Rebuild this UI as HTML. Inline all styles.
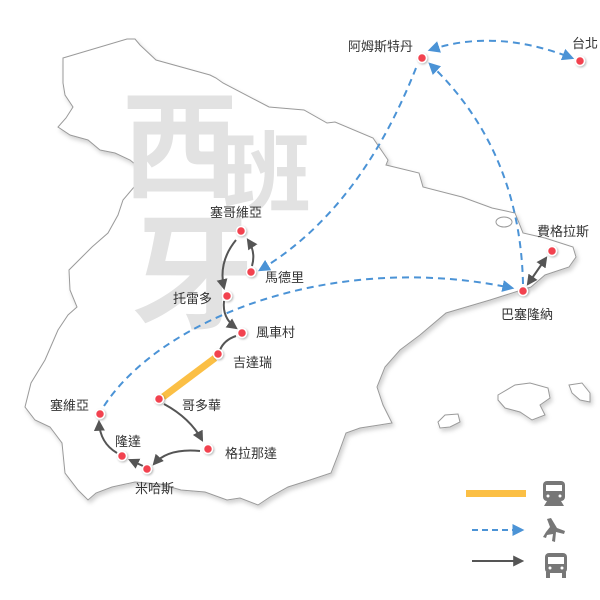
<!DOCTYPE html>
<html><head><meta charset="utf-8"><style>
html,body{margin:0;padding:0;background:#fff;}
svg{display:block;}
text{font-family:"Liberation Sans","Noto Sans CJK TC",sans-serif;}
.lbl{font-size:13px;fill:#333;}
.wm{font-family:"Noto Sans CJK TC","Noto Sans CJK SC",sans-serif;font-weight:bold;fill:#e2e2e2;}
</style></head><body>
<svg width="600" height="600" viewBox="0 0 600 600" xmlns="http://www.w3.org/2000/svg">
<defs>
<filter id="sh" x="-10%" y="-10%" width="130%" height="130%"><feDropShadow dx="2" dy="3" stdDeviation="2" flood-color="#000" flood-opacity="0.18"/></filter>
<filter id="ds" x="-50%" y="-50%" width="200%" height="200%"><feDropShadow dx="1" dy="1" stdDeviation="1" flood-color="#000" flood-opacity="0.3"/></filter>
<marker id="ab" viewBox="0 0 10 10" refX="8" refY="5" markerWidth="6" markerHeight="6" orient="auto-start-reverse"><path d="M0,0 L10,5 L0,10 z" fill="#4b93d6"/></marker>
<marker id="ag" viewBox="0 0 10 10" refX="8" refY="5" markerWidth="5.5" markerHeight="5.5" orient="auto-start-reverse"><path d="M0,0 L10,5 L0,10 z" fill="#555"/></marker>
</defs>
<g filter="url(#sh)" fill="#fff" stroke="#9a9a9a" stroke-width="1">
<path d="M63,58 L127,39 L135,39 L140,45 L156,60 L210,75 L216,78 L223,83 L269,107 L304,110 L327,123 L335,122 L373,138 L388,160 L386,165 L419,173 L423,187 L462,197 L492,208 L515,213 L519,223 L523,233 L545,238 L573,247 L576,257 L569,267 L545,275 L531,287 L490,300 L446,313 L420,335 L400,350 L385,367 L377,387 L383,405 L392,423 L360,428 L346,433 L338,455 L331,473 L310,480 L288,487 L270,497 L258,505 L240,498 L227,500 L205,492 L181,490 L160,484 L135,482 L112,487 L96,493 L88,500 L78,490 L65,473 L62,443 L50,427 L35,420 L25,407 L31,383 L45,360 L58,330 L68,315 L77,307 L70,290 L69,270 L92,247 L108,233 L118,215 L123,200 L146,173 L130,160 L115,153 L100,150 L88,140 L70,135 L58,127 L66,118 L73,107 L65,95 L63,83 Z"/>
<path d="M498,395 L515,385 L530,383 L548,388 L550,398 L540,405 L545,415 L532,420 L520,412 L505,408 L498,400 Z"/>
<path d="M569,385 L582,383 L590,393 L590,402 L580,400 L572,393 Z"/>
<path d="M438,422 L445,415 L458,414 L460,422 L450,427 L440,428 Z"/>
<ellipse cx="504" cy="222" rx="8" ry="5"/>
</g>
<text class="wm" x="122" y="188" font-size="116">西</text>
<text class="wm" x="223" y="205" font-size="88">班</text>
<text class="wm" x="130" y="318" font-size="124">牙</text>
<g fill="none" stroke="#4b93d6" stroke-width="2" stroke-dasharray="7,5">
<path d="M430,50 Q495,28 572,58" marker-start="url(#ab)" marker-end="url(#ab)"/>
<path d="M416,68 Q360,210 260,270" marker-end="url(#ab)"/>
<path d="M523,284 Q520,150 430,64" marker-end="url(#ab)"/>
</g>
<path d="M104,406 C160,320 330,250 512,288" fill="none" stroke="#4b93d6" stroke-width="2" stroke-dasharray="7,5" marker-end="url(#ab)"/>
<line x1="466" y1="493.5" x2="526" y2="493.5" stroke="#fbbf45" stroke-width="7"/>
<line x1="472" y1="530" x2="522" y2="530" stroke="#4b93d6" stroke-width="2" stroke-dasharray="6,4" marker-end="url(#ab)"/>
<line x1="215" y1="358" x2="163" y2="397" stroke="#fbbf45" stroke-width="7"/>
<g fill="none" stroke="#555" stroke-width="2">
<line x1="472" y1="561" x2="522" y2="561" marker-end="url(#ag)"/>
<path d="M528,284 L546,258" marker-start="url(#ag)" marker-end="url(#ag)"/>
<path d="M236,240 Q218,262 224,288" marker-end="url(#ag)"/>
<path d="M252,266 Q256,252 248,240" marker-end="url(#ag)"/>
<path d="M224,301 Q222,318 236,328" marker-end="url(#ag)"/>
<path d="M236,336 Q224,340 220,350"/>
<path d="M164,404 Q190,418 202,440" marker-end="url(#ag)"/>
<path d="M200,451 Q168,448 154,464" marker-end="url(#ag)"/>
<path d="M143,466 L130,460" marker-end="url(#ag)"/>
<path d="M117,453 Q100,443 99,422" marker-end="url(#ag)"/>
</g>
<g fill="#f2434f" stroke="#fff" stroke-width="1.5" filter="url(#ds)">
<circle cx="422" cy="58" r="4.5"/><circle cx="580" cy="61" r="4.5"/>
<circle cx="241" cy="231" r="4.5"/><circle cx="251" cy="272" r="4.5"/>
<circle cx="227" cy="296" r="4.5"/><circle cx="523" cy="291" r="4.5"/>
<circle cx="552" cy="251" r="4.5"/><circle cx="242" cy="333" r="4.5"/>
<circle cx="218" cy="354" r="4.5"/><circle cx="159" cy="399" r="4.5"/>
<circle cx="100" cy="414" r="4.5"/><circle cx="122" cy="456" r="4.5"/>
<circle cx="147" cy="469" r="4.5"/><circle cx="208" cy="449" r="4.5"/>
</g>
<g class="lbl">
<text x="348" y="51">阿姆斯特丹</text>
<text x="572" y="48">台北</text>
<text x="210" y="217">塞哥維亞</text>
<text x="265" y="282">馬德里</text>
<text x="173" y="303">托雷多</text>
<text x="537" y="236">費格拉斯</text>
<text x="501" y="319">巴塞隆納</text>
<text x="256" y="337">風車村</text>
<text x="233" y="367">吉達瑞</text>
<text x="182" y="410">哥多華</text>
<text x="50" y="410">塞維亞</text>
<text x="115" y="446">隆達</text>
<text x="225" y="458">格拉那達</text>
<text x="135" y="493">米哈斯</text>
</g>
<g fill="#777">
<rect x="543" y="481" width="22" height="20" rx="4"/>
<rect x="546" y="485" width="16" height="6" fill="#fff"/>
<circle cx="548" cy="496" r="1.5" fill="#fff"/><circle cx="560" cy="496" r="1.5" fill="#fff"/>
<path d="M544,506 L547,501 L561,501 L564,506 Z"/>
<path d="M547,519 L551,518 L557,528 L565,531 L564,534 L556,532 L555,542 L552,541 L553,534 L547,535 L546,538 L543,537 L546,532 L550,527 Z"/>
<rect x="545" y="553" width="22" height="20" rx="4"/>
<rect x="548" y="557" width="16" height="7" fill="#fff"/>
<circle cx="550" cy="568" r="1.5" fill="#fff"/><circle cx="562" cy="568" r="1.5" fill="#fff"/>
<rect x="546" y="572" width="4" height="6"/><rect x="562" y="572" width="4" height="6"/>
</g>
</svg>
</body></html>
